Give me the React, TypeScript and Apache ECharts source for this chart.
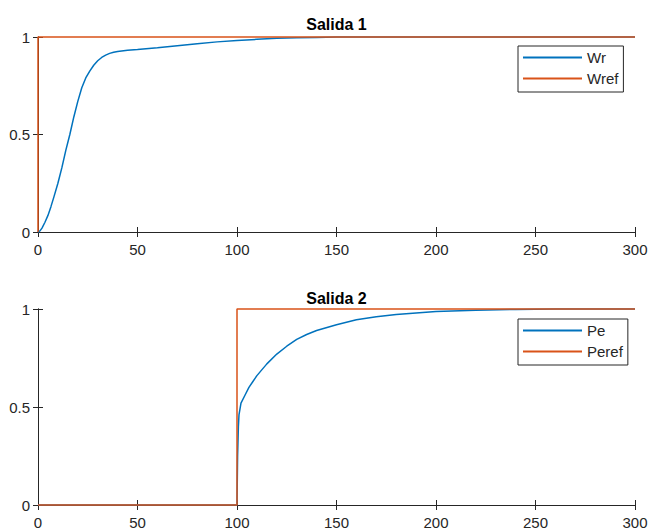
import React, { useEffect, useRef } from "react";
import * as echarts from "echarts";

const xTicks = [0, 50, 100, 150, 200, 250, 300];
const yTicks = [0, 0.5, 1];

// Salida 1
const tWr = [0, 1, 2, 3.5, 5, 6.5, 8, 10, 12, 14, 16, 18, 20, 22, 24, 26, 28, 30, 32, 34, 36, 38, 40, 45, 50, 60, 70, 80, 90, 100, 110, 120, 130, 140, 150, 170, 200, 250, 300];
const wr = [0, 0.006, 0.02, 0.05, 0.085, 0.13, 0.18, 0.25, 0.33, 0.42, 0.5, 0.59, 0.67, 0.74, 0.79, 0.825, 0.855, 0.878, 0.895, 0.907, 0.916, 0.922, 0.926, 0.932, 0.936, 0.945, 0.955, 0.965, 0.975, 0.982, 0.988, 0.993, 0.996, 0.998, 1, 1, 1, 1, 1];
const tWref = [0, 0, 300];
const wref = [0, 1, 1];

// Salida 2
const tPe = [0, 100, 100.3, 100.7, 101, 102, 104, 106, 108, 110, 115, 120, 125, 130, 135, 140, 150, 160, 170, 180, 190, 200, 220, 240, 260, 300];
const pe = [0, 0, 0.25, 0.4, 0.46, 0.52, 0.56, 0.6, 0.63, 0.66, 0.72, 0.77, 0.81, 0.845, 0.87, 0.89, 0.92, 0.945, 0.96, 0.972, 0.98, 0.987, 0.994, 0.998, 1, 1];
const tPeref = [0, 100, 100, 300];
const peref = [0, 0, 1, 1];

const BLUE = "#0072BD";
const ORANGE = "#D95319";
const AXIS = "#262626";
const FONT = "'Liberation Sans', Arial, Helvetica, sans-serif";

const zip = (t: number[], v: number[]) => t.map((x, i) => [x, v[i]]);

export default function App() {
  const ref = useRef<HTMLDivElement>(null);
  useEffect(() => {
    if (!ref.current) return;
    const chart = echarts.init(ref.current, undefined, { renderer: "svg" });
    const grids = [
      { left: 38, top: 37, width: 597, height: 195 },
      { left: 38, top: 309, width: 597, height: 196 },
    ];
    const lineStyle = { color: AXIS, width: 1 };
    const xAxes: any[] = [];
    const yAxes: any[] = [];
    grids.forEach((_, gi) => {
      xAxes.push({
        type: "value", gridIndex: gi, position: "bottom", min: xTicks[0], max: xTicks[xTicks.length - 1], interval: 50,
        axisLine: { show: true, lineStyle }, axisTick: { show: true, inside: true, length: 5, lineStyle },
        axisLabel: { show: true, color: AXIS, fontSize: 15, fontFamily: FONT, margin: 10 },
        splitLine: { show: false },
      });
      xAxes.push({
        type: "value", gridIndex: gi, position: "top", min: xTicks[0], max: xTicks[xTicks.length - 1], interval: 50,
        axisLine: { show: true, lineStyle }, axisTick: { show: true, inside: true, length: 5, lineStyle },
        axisLabel: { show: false }, splitLine: { show: false },
      });
      yAxes.push({
        type: "value", gridIndex: gi, position: "left", min: yTicks[0], max: yTicks[yTicks.length - 1], interval: 0.5,
        axisLine: { show: true, lineStyle }, axisTick: { show: true, inside: true, length: 5, lineStyle },
        axisLabel: { show: true, color: AXIS, fontSize: 15, fontFamily: FONT, margin: 8 },
        splitLine: { show: false },
      });
      yAxes.push({
        type: "value", gridIndex: gi, position: "right", min: yTicks[0], max: yTicks[yTicks.length - 1], interval: 0.5,
        axisLine: { show: true, lineStyle }, axisTick: { show: true, inside: true, length: 5, lineStyle },
        axisLabel: { show: false }, splitLine: { show: false },
      });
    });
    const mk = (name: string, data: number[][], color: string, gi: number) => ({
      name, type: "line", xAxisIndex: gi * 2, yAxisIndex: gi * 2, data,
      showSymbol: false, symbol: "none", clip: false,
      lineStyle: { color, width: 1.5 }, itemStyle: { color },
    });
    const legendCommon = {
      orient: "vertical", left: 518, icon: "rect", itemWidth: 59, itemHeight: 2, itemGap: 6,
      padding: [4, 5, 6, 5], borderColor: AXIS, borderWidth: 1, backgroundColor: "#fff",
      textStyle: { color: AXIS, fontSize: 15, fontFamily: FONT, padding: [0, 0, 0, 0] },
    };
    chart.setOption({
      animation: false,
      backgroundColor: "#fff",
      grid: grids,
      xAxis: xAxes,
      yAxis: yAxes,
      legend: [
        { ...legendCommon, top: 46, data: ["Wr", "Wref"] },
        { ...legendCommon, top: 319, data: ["Pe", "Peref"] },
      ],
      graphic: [
        { type: "text", x: 336.5, y: 24, style: { text: "Salida 1", font: `bold 16px ${FONT}`, fill: "#000", textAlign: "center", textVerticalAlign: "middle" } },
        { type: "text", x: 336.5, y: 298, style: { text: "Salida 2", font: `bold 16px ${FONT}`, fill: "#000", textAlign: "center", textVerticalAlign: "middle" } },
      ],
      series: [
        mk("Wr", zip(tWr, wr), BLUE, 0),
        mk("Wref", zip(tWref, wref), ORANGE, 0),
        mk("Pe", zip(tPe, pe), BLUE, 1),
        mk("Peref", zip(tPeref, peref), ORANGE, 1),
      ],
    });
    return () => chart.dispose();
  }, []);
  return <div ref={ref} style={{ width: 651, height: 532, position: "absolute", left: 0, top: 0 }} />;
}
